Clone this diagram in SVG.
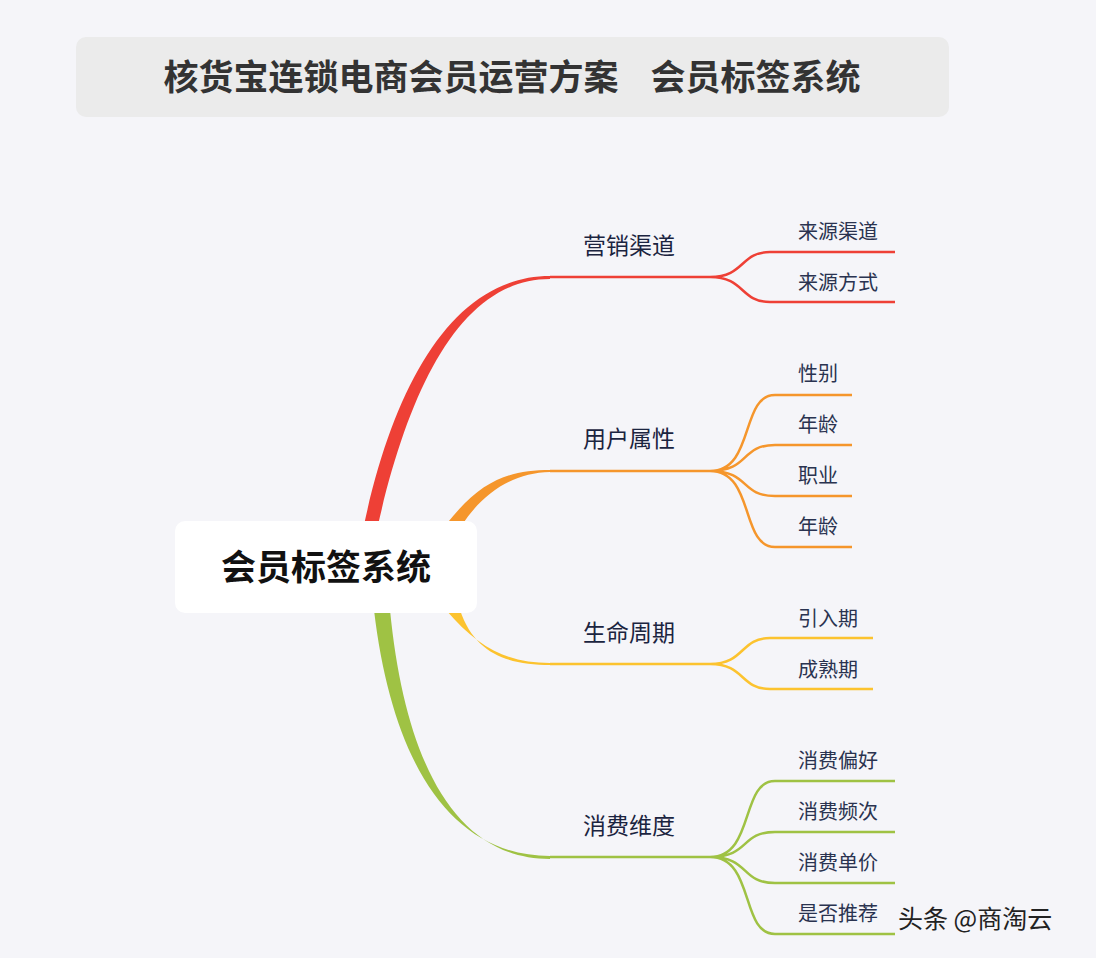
<svg xmlns="http://www.w3.org/2000/svg" width="1096" height="958" viewBox="0 0 1096 958">
<style>
.t{font-family:"Noto Sans CJK SC","Noto Sans",sans-serif}
.m{font-size:23px;fill:#1b2440}
.s{font-size:20px;fill:#2a3350}
.l{fill:none;stroke-width:2.5}
</style>
<rect width="1096" height="958" fill="#f5f5f9"/>
<g id="title"><rect x="76" y="37" width="873" height="80" rx="10" fill="#ebebeb"/>
<text class="t" x="512" y="90" text-anchor="middle" font-size="35" font-weight="bold" fill="#333">核货宝连锁电商会员运营方案&#160;&#160;&#160;&#160;会员标签系统</text></g>
<g id="connectors">
<path d="M364,525 C395,380 455,276 550,276 L550,279 C462,279 410,385 378,525 Z" fill="#ee4036"/>
<path d="M710,277 L550,277" class="l" stroke="#ee4036"/>
<path d="M710,277 C745,277 740,252 770,252 L895,252 M710,277 C745,277 740,302 770,302 L895,302" class="l" stroke="#ee4036"/>
<path d="M446,525 C480,480 510,470 550,470 L550,472 C515,473 485,490 462,525 Z" fill="#f5962c"/>
<path d="M710,471 L550,471" class="l" stroke="#f5962c"/>
<path d="M710,471 C755,471 740,395 775,395 L852,395 M710,471 C750,471 740,445 775,445 L852,445 M710,471 C750,471 740,496 775,496 L852,496 M710,471 C755,471 740,547 775,547 L852,547" class="l" stroke="#f5962c"/>
<path d="M446,610 C480,650 510,663 550,663 L550,665 C510,665 475,655 460,610 Z" fill="#fcc32f"/>
<path d="M710,664 L550,664" class="l" stroke="#fcc32f"/>
<path d="M710,664 C745,664 740,638 770,638 L873,638 M710,664 C745,664 740,689 770,689 L873,689" class="l" stroke="#fcc32f"/>
<path d="M374,610 C392,762 450,856 550,856 L550,859 C455,859 405,762 390,610 Z" fill="#9fc244"/>
<path d="M710,857 L550,857" class="l" stroke="#9fc244"/>
<path d="M710,857 C755,857 740,781 775,781 L895,781 M710,857 C750,857 740,832 775,832 L895,832 M710,857 C750,857 740,883 775,883 L895,883 M710,857 C755,857 740,934 775,934 L895,934" class="l" stroke="#9fc244"/>
</g>
<g id="center"><rect x="175" y="521" width="302" height="92" rx="10" fill="#fff"/>
<text class="t" x="326" y="580" text-anchor="middle" font-size="35" font-weight="bold" fill="#111">会员标签系统</text></g>
<g id="n1"><text class="t m" x="583" y="254">营销渠道</text><text class="t s" x="798" y="239">来源渠道</text><text class="t s" x="798" y="290">来源方式</text></g>
<g id="n2"><text class="t m" x="583" y="447">用户属性</text><text class="t s" x="798" y="381">性别</text><text class="t s" x="798" y="432">年龄</text><text class="t s" x="798" y="483">职业</text><text class="t s" x="798" y="534">年龄</text></g>
<g id="n3"><text class="t m" x="583" y="641">生命周期</text><text class="t s" x="798" y="626">引入期</text><text class="t s" x="798" y="677">成熟期</text></g>
<g id="n4"><text class="t m" x="583" y="834">消费维度</text><text class="t s" x="798" y="768">消费偏好</text><text class="t s" x="798" y="819">消费频次</text><text class="t s" x="798" y="870">消费单价</text><text class="t s" x="798" y="921">是否推荐</text></g>
<text class="t" x="898" y="928" font-size="25" fill="#222">头条 @商淘云</text>
</svg>
